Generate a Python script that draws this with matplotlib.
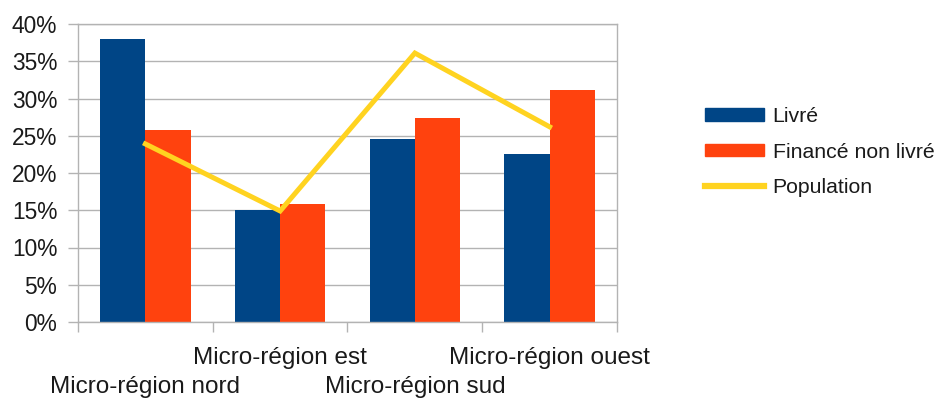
import matplotlib
matplotlib.use("Agg")
import matplotlib.pyplot as plt
import numpy as np
from matplotlib.patches import Patch
from matplotlib.lines import Line2D
from matplotlib.ticker import FixedLocator, FuncFormatter

plt.rcParams['font.family'] = ['Liberation Sans', 'DejaVu Sans']

categories = ["Micro-région nord", "Micro-région est", "Micro-région sud", "Micro-région ouest"]
livre = [38.0, 15.0, 24.6, 22.5]
finance_non_livre = [25.8, 15.8, 27.4, 31.1]
population = [23.9, 14.9, 36.1, 26.2]
series_names = ["Livré", "Financé non livré", "Population"]
y_ticks = [0, 5, 10, 15, 20, 25, 30, 35, 40]

c_livre = "#004586"
c_fin = "#ff420e"
c_pop = "#ffd320"
c_grid = "#b3b3b3"

fig = plt.figure(figsize=(9.37, 3.99), dpi=100)
ax = fig.add_axes([78/937, 77/399, 539/937, 298/399])

x = np.arange(len(categories))
w = 0.335
ax.bar(x - w/2, livre, width=w, color=c_livre, zorder=2)
ax.bar(x + w/2, finance_non_livre, width=w, color=c_fin, zorder=2)
ax.plot(x, population, color=c_pop, lw=3.6, zorder=3, solid_joinstyle='miter')

ax.set_xlim(-0.5, len(categories) - 0.5)
ax.set_ylim(0, 40)
ax.yaxis.set_major_locator(FixedLocator(y_ticks))
ax.yaxis.set_major_formatter(FuncFormatter(lambda v, p: f"{v:.0f}%"))
ax.grid(axis='y', color=c_grid, lw=1, zorder=0)

for s in ax.spines.values():
    s.set_color(c_grid)
    s.set_linewidth(1)

ax.set_xticks(np.arange(len(categories) + 1) - 0.5)
ax.set_xticklabels([])
ax.tick_params(axis='x', length=7.5, color=c_grid, width=1)
ax.tick_params(axis='y', length=7.5, color=c_grid, width=1, labelsize=16.4, pad=7.5,
               labelcolor='#1a1a1a')

# staggered category labels
for i, name in enumerate(categories):
    off = -47 if i % 2 == 0 else -26
    ax.annotate(name, xy=(i, 0), xycoords=('data', 'axes fraction'),
                xytext=(0, off), textcoords='offset points',
                ha='center', va='center', fontsize=17.5, color='#1a1a1a')

handles = [Patch(color=c_livre), Patch(color=c_fin),
           Line2D([0], [0], color=c_pop, lw=4.5)]
fig.legend(handles, series_names, loc='center left',
           bbox_to_anchor=(705/937, 1 - 152/399), frameon=False,
           fontsize=15.3, handlelength=2.8, handleheight=0.56,
           handletextpad=0.38, labelspacing=0.76, borderpad=0,
           borderaxespad=0, labelcolor='#1a1a1a')

fig.savefig("out.png", dpi=100)
